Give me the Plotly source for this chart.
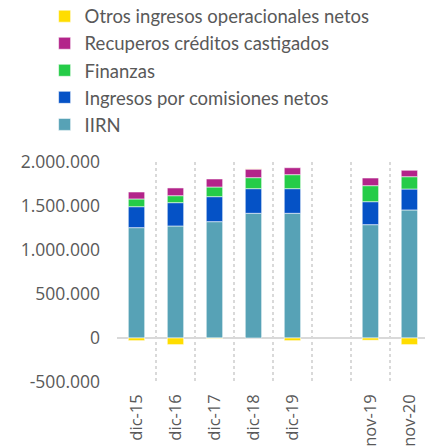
import plotly.graph_objects as go

categories = ["dic-15", "dic-16", "dic-17", "dic-18", "dic-19", " ", "nov-19", "nov-20"]

iirn = [1254000, 1273000, 1322000, 1417000, 1417000, None, 1288000, 1455000]
comisiones = [238000, 265000, 284000, 280000, 280000, None, 261000, 238000]
finanzas = [88000, 79000, 110000, 125000, 159000, None, 182000, 140000]
recuperos = [79000, 88000, 91000, 98000, 79000, None, 87000, 73000]
otros = [-30000, -75000, -5000, 2000, -30000, None, -25000, -75000]

y_tickvals = [-500000, 0, 500000, 1000000, 1500000, 2000000]
y_ticktext = ["-500.000", "0", "500.000", "1.000.000", "1.500.000", "2.000.000"]

series = [
    ("IIRN", iirn, "#57a2b6"),
    ("Ingresos por comisiones netos", comisiones, "#0552c6"),
    ("Finanzas", finanzas, "#25cc48"),
    ("Recuperos créditos castigados", recuperos, "#b3248a"),
    ("Otros ingresos operacionales netos", otros, "#ffdd00"),
]

fig = go.Figure()
for i, (name, vals, color) in enumerate(series):
    fig.add_trace(go.Bar(
        x=categories, y=vals, name=name, legendgroup=f"g{i}",
        marker=dict(color=color, line=dict(color="rgba(255,255,255,0.55)", width=1)),
        width=0.42,
    ))

n_cat = len(categories)
boundaries = [k - 0.5 for k in range(n_cat + 1)]

axis_font = "Open Sans"
legend_font = "Lato"
fig.update_layout(
    barmode="relative",
    width=425, height=447,
    margin=dict(l=117, r=0, t=162, b=65, autoexpand=False),
    paper_bgcolor="white", plot_bgcolor="white",
    separators=",.",
    showlegend=True,
    legend=dict(
        x=-0.235, xanchor="left", y=1.747, yanchor="top",
        traceorder="reversed", tracegroupgap=5.4,
        font=dict(family=legend_font, size=18.5, color="#595959"),
        bgcolor="rgba(0,0,0,0)",
    ),
    xaxis=dict(
        type="category", categoryorder="array", categoryarray=categories,
        range=[-0.5, 7.4], tickson="boundaries", automargin=False,
        showgrid=True, gridcolor="#d9d9d9", griddash="dot", gridwidth=1.5,
        tickangle=-90, ticks="", ticklabelstandoff=8,
        tickfont=dict(family=axis_font, size=16.5, color="#595959"),
        showline=False, zeroline=False,
    ),
    xaxis2=dict(
        type="linear", overlaying="x", anchor="free", position=0.2,
        range=[-0.5, 7.4], tickmode="array", tickvals=boundaries,
        ticks="outside", ticklen=7, tickwidth=2, tickcolor="#d9d9d9",
        showticklabels=False, showgrid=False, zeroline=False, showline=False,
        automargin=False,
    ),
    yaxis=dict(
        range=[-500000, 2000000], tickvals=y_tickvals, ticktext=y_ticktext,
        showgrid=False, zeroline=True, zerolinecolor="#d9d9d9", zerolinewidth=2,
        showline=False, ticks="", ticklabelstandoff=16, automargin=False,
        tickfont=dict(family=axis_font, size=17.5, color="#595959"),
    ),
)

fig.write_html(
    "out.html",
    post_script="document.body.style.margin='0';",
    config={"displayModeBar": False},
)
